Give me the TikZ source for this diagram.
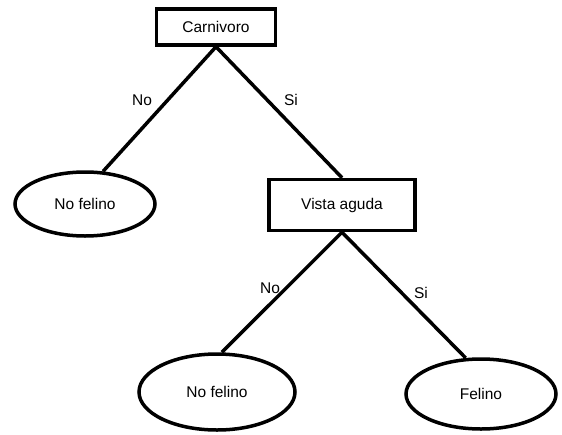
\documentclass[tikz,border=0pt]{standalone}
\usepackage{fontspec}
\setmainfont{Liberation Sans}
\usetikzlibrary{shapes.geometric}
\begin{document}
\begin{tikzpicture}[x=1pt,y=-1pt,
  every node/.style={font=\fontsize{15.5}{18}\selectfont},
  boxnode/.style={draw,line width=3.5pt,rectangle,inner sep=0pt},
  leaf/.style={draw,line width=3.5pt,ellipse,inner sep=0pt},
  edge/.style={line width=3.5pt},
  lbl/.style={inner sep=0pt}]
\useasboundingbox (0,0) rectangle (562,434);
\node[boxnode,minimum width=119pt,minimum height=36pt] (carn) at (216,27) {Carnivoro};
\node[leaf,minimum width=140pt,minimum height=64pt] (nf1) at (85,204) {No felino};
\node[boxnode,minimum width=146pt,minimum height=51pt] (vista) at (342,205) {Vista aguda};
\node[leaf,minimum width=156pt,minimum height=76pt] (nf2) at (217,392) {No felino};
\node[leaf,minimum width=150pt,minimum height=70pt] (fel) at (481,394) {Felino};
\draw[edge] (carn.south) -- (nf1.61);
\draw[edge] (carn.south) -- (vista.north);
\draw[edge] (vista.south) -- (nf2.83);
\draw[edge] (vista.south) -- (fel.113);
\node[lbl] (l1) at (142,100) {No};
\node[lbl] (l2) at (291,100) {Si};
\node[lbl] (l3) at (270,288) {No};
\node[lbl] (l4) at (421,293) {Si};
\end{tikzpicture}
\end{document}
